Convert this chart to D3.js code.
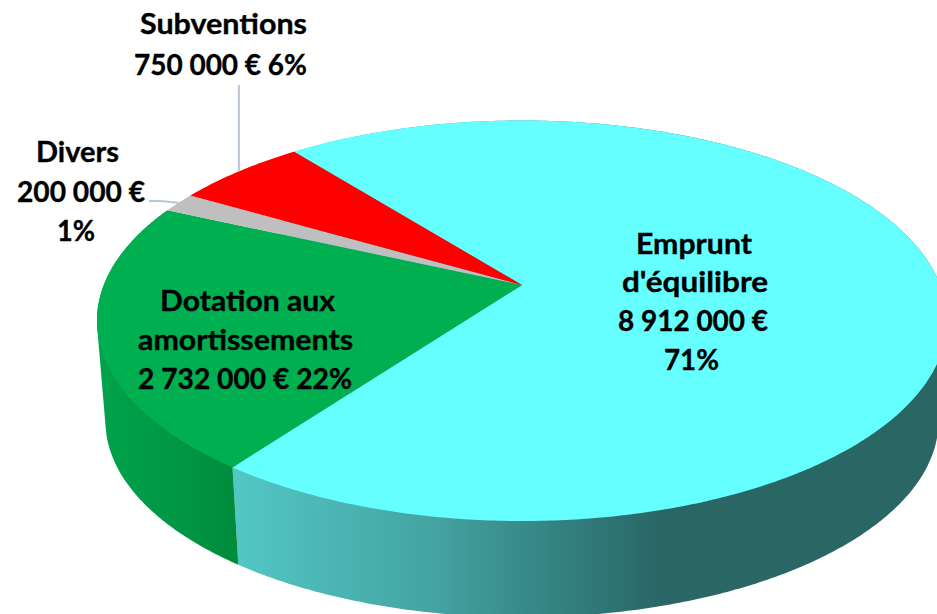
<!DOCTYPE html>
<html>
<head>
<meta charset="utf-8">
<script src="https://d3js.org/d3.v7.min.js"></script>
<style>
  html, body { margin: 0; padding: 0; background: #fff; overflow: hidden; }
  text { font-family: Lato, "Open Sans", sans-serif; font-weight: 700; font-size: 28px; fill: #000; stroke: #000; stroke-width: 0.35px; }
</style>
</head>
<body>
<svg id="chart" width="937" height="614"></svg>
<script>
const categories = ["Emprunt d'équilibre", 'Dotation aux amortissements', 'Divers', 'Subventions'];
const values = [8912000, 2732000, 200000, 750000];
const colors = ['#66ffff', '#00af50', '#bfbfbf', '#ff0000'];
const labelLines = [
  ['Emprunt', "d'équilibre", '8 912 000 €', '71%'],
  ['Dotation aux', 'amortissements', '2 732 000 € 22%'],
  ['Divers', '200 000 €', '1%'],
  ['Subventions', '750 000 € 6%']
];

const w = 937;
const h = 614;

// perspective of the tilted disc: apex of the slices and size of the rim
const apexX = 522;
const apexY = 285;
const radX = 418.2;
const radY = 193.9;
const persp = 0.1785;
const depth = 101;
const lowerScale = 0.98;
const startDeg = -38.4;

function project(a, lower) {
  const u = Math.sin(a);
  const v = -Math.cos(a);
  const p = 1 - persp * v;
  const s = lower ? lowerScale : 1;
  return [apexX + s * radX * u / p, apexY + (lower ? depth : 0) + s * radY * v / p];
}

function rim(a0, a1, lower) {
  const n = Math.ceil(Math.abs(a1 - a0) / 0.01);
  return d3.range(n + 1).map(i => project(a0 + (a1 - a0) * i / n, lower));
}

const pie = d3.pie()
  .sort(null)
  .startAngle(startDeg * Math.PI / 180)
  .endAngle((startDeg + 360) * Math.PI / 180);
const slices = pie(values);
const linea = d3.line();

const svg = d3.select('#chart');
const defs = svg.append('defs');

function sideGradient(id, x1, x2, stops) {
  defs.append('linearGradient')
    .attr('id', id)
    .attr('gradientUnits', 'userSpaceOnUse')
    .attr('x1', x1).attr('x2', x2).attr('y1', 0).attr('y2', 0)
    .selectAll('stop')
    .data(stops)
    .enter()
    .append('stop')
    .attr('offset', d => d[0])
    .attr('stop-color', d => d[1]);
}

sideGradient('side-cyan', 240, 665, [[0, '#52c6c3'], [0.45, '#44a4a2'], [0.76, '#338080'], [1, '#296664']]);
sideGradient('side-green', 100, 240, [[0, '#00a24b'], [0.5, '#009846'], [1, '#008a3c']]);

// sides of the two front slices, then the top faces over them
[[0, 'side-cyan'], [1, 'side-green']].forEach(([i, id]) => {
  const s = slices[i];
  const pts = rim(s.startAngle, s.endAngle, false).concat(rim(s.endAngle, s.startAngle, true));
  svg.append('path')
    .attr('d', linea(d3.polygonHull(pts)) + 'Z')
    .attr('fill', 'url(#' + id + ')');
});

svg.selectAll('path.slice')
  .data(slices)
  .enter()
  .append('path')
  .attr('class', 'slice')
  .attr('d', d => linea([[apexX, apexY]].concat(rim(d.startAngle, d.endAngle, false))) + 'Z')
  .attr('fill', (d, i) => colors[i]);

// leader lines of the two small slices
const mid = d => (d.startAngle + d.endAngle) / 2;
const leader = svg.append('g')
  .attr('fill', 'none')
  .attr('stroke', '#b9c4d6')
  .attr('stroke-width', 2);

const pSub = project(mid(slices[3]), false);
leader.append('path').attr('d', linea([[pSub[0], 85], pSub]));
const pDiv = project(mid(slices[2]), false);
leader.append('path').attr('d', linea([[149, 201], [160, 201], pDiv]));

// labels: centre x of each line, first line y, line step, width of each line
const labelPos = [
  [[694, 695, 693, 691.5], 253.5, 38.8, [116, 146, 150, 55]],
  [[247.5, 245.5, 245], 311, 39, [175, 215, 214]],
  [[77.5, 81, 76], 162, 39.5, [83, 128, 38]],
  [[223.5, 220.5], 34, 41, [167, 173]]
];

labelLines.forEach((lines, i) => {
  const t = svg.append('text')
    .attr('text-anchor', 'middle')
    .attr('aria-label', categories[i]);
  lines.forEach((l, j) => {
    t.append('tspan')
      .attr('x', labelPos[i][0][j])
      .attr('y', labelPos[i][1] + j * labelPos[i][2])
      .attr('textLength', labelPos[i][3][j])
      .attr('lengthAdjust', 'spacingAndGlyphs')
      .text(l);
  });
});
</script>
</body>
</html>
